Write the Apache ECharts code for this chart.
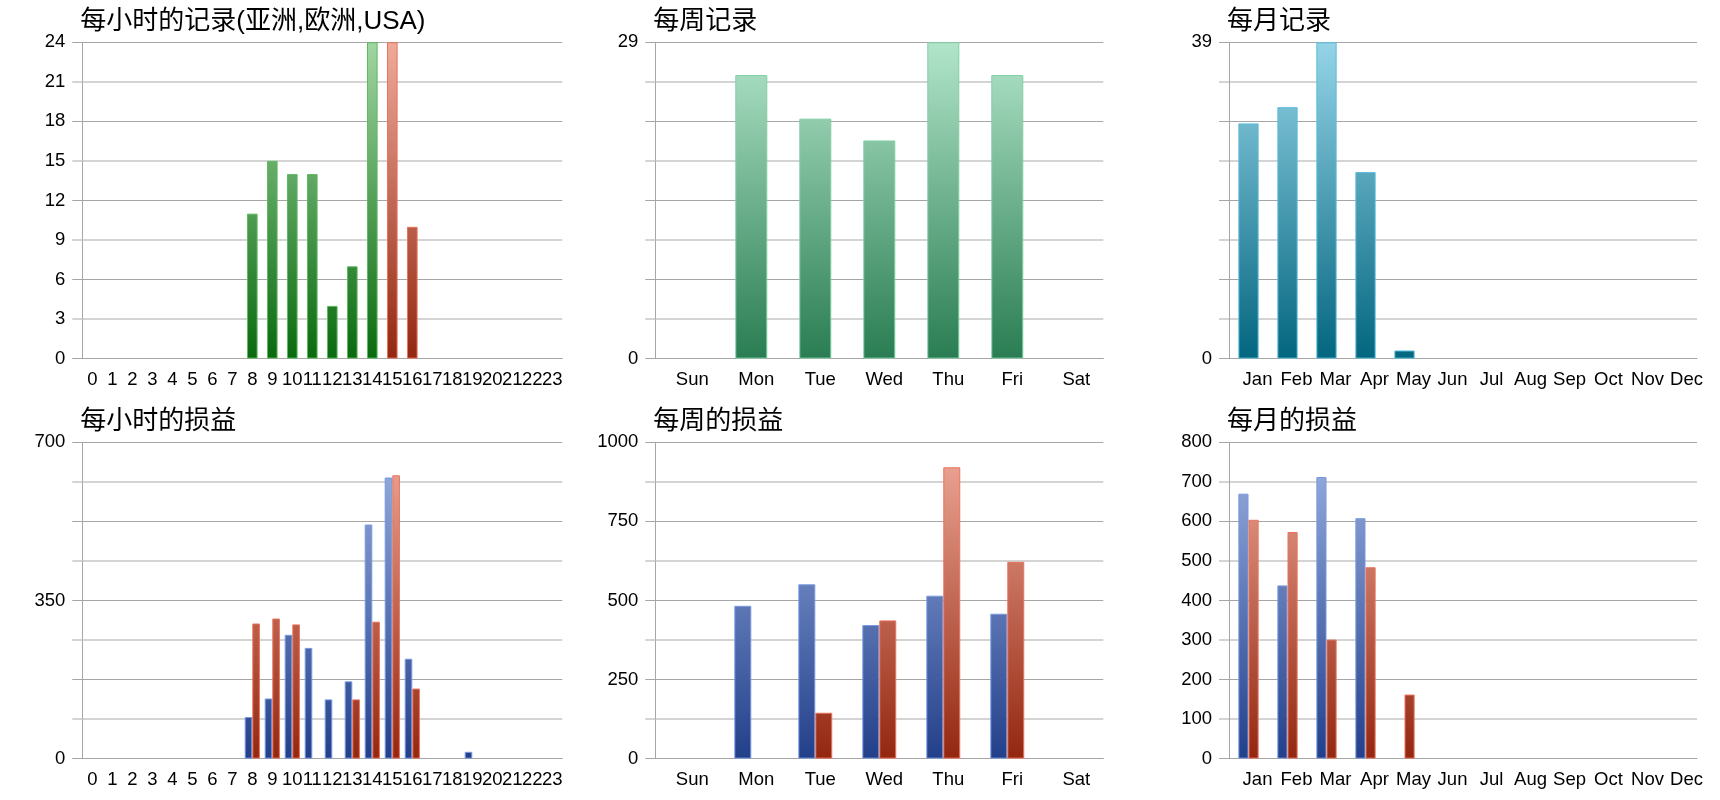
<!DOCTYPE html>
<html>
<head>
<meta charset="utf-8">
<title>记录与损益</title>
<script src="https://cdn.jsdelivr.net/npm/echarts@6.0.0/dist/echarts.min.js"></script>
<style>
    html, body { margin: 0; padding: 0; background: #fff; }
    #main { width: 1720px; height: 800px; }
</style>
</head>
<body>
<div id="main"></div>
<script>
// 分类
var hours = ['0', '1', '2', '3', '4', '5', '6', '7', '8', '9', '10', '11',
    '12', '13', '14', '15', '16', '17', '18', '19', '20', '21', '22', '23'];
var weekdays = ['Sun', 'Mon', 'Tue', 'Wed', 'Thu', 'Fri', 'Sat'];
var months = ['Jan', 'Feb', 'Mar', 'Apr', 'May', 'Jun', 'Jul', 'Aug', 'Sep', 'Oct', 'Nov', 'Dec'];

// 每小时的记录 (绿色 / 红色)
var hourCountGreen = [null, null, null, null, null, null, null, null, 11, 15, 14, 14,
    4, 7, 24, null, null, null, null, null, null, null, null, null];
var hourCountRed = [null, null, null, null, null, null, null, null, null, null, null, null,
    null, null, null, 24, 10, null, null, null, null, null, null, null];
// 每小时的损益
var hourPnlBlue = [null, null, null, null, null, null, null, null, 92, 133, 274, 245,
    131, 171, 518, 622, 221, null, null, 15, null, null, null, null];
var hourPnlRed = [null, null, null, null, null, null, null, null, 299, 310, 297, null,
    null, 131, 303, 627, 155, null, null, null, null, null, null, null];

// 每周
var weekCount = [null, 26, 22, 20, 29, 26, null];
var weekPnlBlue = [null, 483, 551, 422, 515, 458, null];
var weekPnlRed = [null, null, 145, 437, 921, 622, null];

// 每月
var monthCount = [29, 31, 39, 23, 1, null, null, null, null, null, null, null];
var monthPnlBlue = [670, 438, 712, 608, null, null, null, null, null, null, null, null];
var monthPnlRed = [604, 573, 301, 484, 162, null, null, null, null, null, null, null];

// 刻度: [最大值, 步长, 显示标签的步长]
var hourCountTicks = [24, 3, 3];
var weekCountTicks = [29, 3.625, 29];
var monthCountTicks = [39, 4.875, 39];
var hourPnlTicks = [700, 87.5, 350];
var weekPnlTicks = [1000, 125, 250];
var monthPnlTicks = [800, 100, 100];

var titles = ['每小时的记录(亚洲,欧洲,USA)', '每周记录', '每月记录', '每小时的损益', '每周的损益', '每月的损益'];

var chart = echarts.init(document.getElementById('main'));

var colLeft = [82.3, 655.3, 1229];
var colWidth = [480, 448, 468];
var rowTop = [42.3, 442.3];
var plotH = 316.3;
var labelPad = [0, 10, 18];
var FONT = '"Liberation Sans", Arial, sans-serif';
var FONT_SIZE = 18.5;
var GRID_DARK = '#a6a6a6';
var GRID_LIGHT = '#d4d4d4';

function grad(row, top, bottom) {
    var y0 = rowTop[row];
    return new echarts.graphic.LinearGradient(0, y0, 0, y0 + plotH, [
        { offset: 0, color: top },
        { offset: 1, color: bottom }
    ], true);
}

var green = ['#a0d6a2', '#0a6a0f', '#5eb95e'];
var red = ['#f0aa9a', '#932710', '#e8735c'];
var blue = ['#9db3e3', '#223f8a', '#7798df'];
var mint = ['#b2e5ca', '#2a7d52', '#80cfa7'];
var teal = ['#95d4e7', '#03667f', '#5bbcdc'];

function style(row, c) {
    return { color: grad(row, c[0], c[1]), borderColor: c[2], borderWidth: 1 };
}

var grids = [], xAxes = [], yAxes = [], titleOpts = [];
var cats = [hours, weekdays, months, hours, weekdays, months];
var ticks = [hourCountTicks, weekCountTicks, monthCountTicks, hourPnlTicks, weekPnlTicks, monthPnlTicks];

for (var g = 0; g < 6; g++) {
    var row = Math.floor(g / 3), col = g % 3;
    grids.push({ left: colLeft[col], top: rowTop[row], width: colWidth[col], height: plotH });
    titleOpts.push({
        text: titles[g],
        left: colLeft[col] - 2,
        top: rowTop[row] - 33,
        padding: 0,
        textStyle: { fontSize: 26, fontWeight: 'normal', color: '#000',
            fontFamily: '"Liberation Sans", "Noto Sans CJK SC", sans-serif' }
    });
    xAxes.push({
        type: 'category',
        gridIndex: g,
        data: cats[g],
        axisLine: { lineStyle: { color: GRID_DARK } },
        axisTick: { length: 10, interval: 0, lineStyle: { color: GRID_DARK } },
        axisLabel: { interval: 0, fontSize: FONT_SIZE, color: '#000', fontFamily: FONT,
            margin: 12, padding: [0, 0, 0, labelPad[col]] },
        splitLine: { show: false }
    });
    var t = ticks[g];
    // 网格线轴
    yAxes.push({
        type: 'value',
        gridIndex: g,
        position: 'left',
        min: 0,
        max: t[0],
        interval: t[1] * 2,
        axisLine: { show: true, lineStyle: { color: GRID_DARK } },
        axisTick: { show: true, length: 10, lineStyle: { color: GRID_DARK } },
        minorTick: { show: true, splitNumber: 2, length: 10, lineStyle: { color: GRID_LIGHT, width: 2 } },
        splitLine: { show: true, lineStyle: { color: GRID_DARK, width: 1 } },
        minorSplitLine: { show: true, lineStyle: { color: GRID_LIGHT, width: 2 } },
        axisLabel: { show: false }
    });
    // 标签轴
    (function (t) {
        yAxes.push({
            type: 'value',
            gridIndex: g,
            position: 'left',
            min: 0,
            max: t[0],
            interval: t[1],
            axisLine: { show: false },
            axisTick: { show: false },
            splitLine: { show: false },
            axisLabel: {
                fontSize: FONT_SIZE, color: '#000', fontFamily: FONT, margin: 17,
                formatter: function (v) {
                    var r = v / t[2];
                    return Math.abs(r - Math.round(r)) < 1e-6 ? String(Math.round(v)) : '';
                }
            }
        });
    })(t);
}

var series = [
    { name: '亚洲,欧洲', type: 'bar', stack: 'h', xAxisIndex: 0, yAxisIndex: 0,
        barCategoryGap: '47%', data: hourCountGreen, itemStyle: style(0, green) },
    { name: 'USA', type: 'bar', stack: 'h', xAxisIndex: 0, yAxisIndex: 0,
        data: hourCountRed, itemStyle: style(0, red) },
    { type: 'bar', xAxisIndex: 1, yAxisIndex: 2, barCategoryGap: '50%',
        data: weekCount, itemStyle: style(0, mint) },
    { type: 'bar', xAxisIndex: 2, yAxisIndex: 4, barCategoryGap: '48%',
        data: monthCount, itemStyle: style(0, teal) },
    { type: 'bar', xAxisIndex: 3, yAxisIndex: 6, barGap: '0%', barCategoryGap: '24%',
        data: hourPnlBlue, itemStyle: style(1, blue) },
    { type: 'bar', xAxisIndex: 3, yAxisIndex: 6, barGap: '0%', barCategoryGap: '24%',
        data: hourPnlRed, itemStyle: style(1, red) },
    { type: 'bar', xAxisIndex: 4, yAxisIndex: 8, barGap: '0%', barCategoryGap: '47%',
        data: weekPnlBlue, itemStyle: style(1, blue) },
    { type: 'bar', xAxisIndex: 4, yAxisIndex: 8, barGap: '0%', barCategoryGap: '47%',
        data: weekPnlRed, itemStyle: style(1, red) },
    { type: 'bar', xAxisIndex: 5, yAxisIndex: 10, barGap: '0%', barCategoryGap: '48%',
        data: monthPnlBlue, itemStyle: style(1, blue) },
    { type: 'bar', xAxisIndex: 5, yAxisIndex: 10, barGap: '0%', barCategoryGap: '48%',
        data: monthPnlRed, itemStyle: style(1, red) }
];

chart.setOption({
    animation: false,
    backgroundColor: '#fff',
    title: titleOpts,
    grid: grids,
    xAxis: xAxes,
    yAxis: yAxes,
    series: series
});
</script>
</body>
</html>
